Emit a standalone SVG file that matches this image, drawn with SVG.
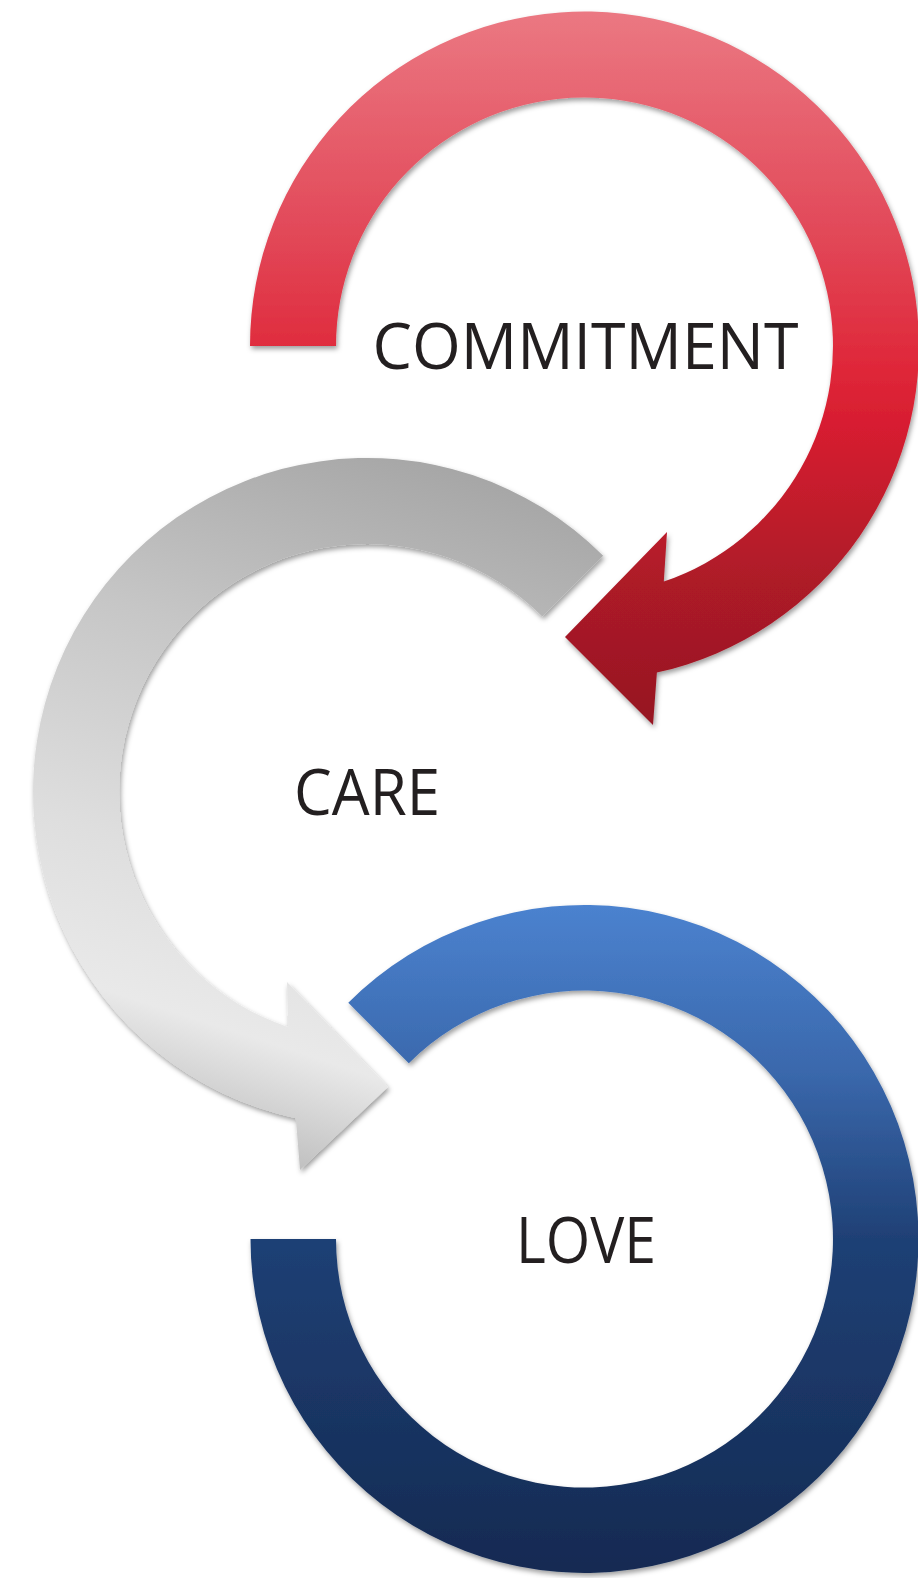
<svg xmlns="http://www.w3.org/2000/svg" width="918" height="1578" viewBox="0 0 918 1578">
  <style>
    .lbl { font-family: "Open Sans", "Noto Sans", "Liberation Sans", sans-serif; font-size: 64px; fill: #231f20; text-anchor: middle; }
    .shape { filter: url(#shadow); }
  </style>
  <defs>
    <filter id="shadow" x="-10%" y="-10%" width="120%" height="120%">
      <feDropShadow dx="1.5" dy="3" stdDeviation="2.5" flood-color="#000" flood-opacity="0.38"/>
    </filter>
    <linearGradient id="gRed" gradientUnits="userSpaceOnUse" x1="0" y1="12" x2="0" y2="725">
      <stop offset="0" stop-color="#eb7882"/>
      <stop offset="0.3" stop-color="#e24a5a"/>
      <stop offset="0.5" stop-color="#df2739"/>
      <stop offset="0.58" stop-color="#d71d30"/>
      <stop offset="0.8" stop-color="#ad1a28"/>
      <stop offset="1" stop-color="#961722"/>
    </linearGradient>
    <linearGradient id="gGray" gradientUnits="userSpaceOnUse" x1="560" y1="470" x2="330" y2="1180">
      <stop offset="0" stop-color="#a2a2a2"/>
      <stop offset="0.35" stop-color="#c6c6c6"/>
      <stop offset="0.65" stop-color="#dedede"/>
      <stop offset="0.85" stop-color="#e9e9e9"/>
      <stop offset="1" stop-color="#c0c0c0"/>
    </linearGradient>
    <linearGradient id="gBlue" gradientUnits="userSpaceOnUse" x1="0" y1="905" x2="0" y2="1573">
      <stop offset="0" stop-color="#4b82cf"/>
      <stop offset="0.25" stop-color="#3a68ac"/>
      <stop offset="0.5" stop-color="#1f4075"/>
      <stop offset="1" stop-color="#142a52"/>
    </linearGradient>
  </defs>

  <g id="connectors"></g>

  <g id="node-love">
    <path class="shape" fill="url(#gBlue)" d="M250.5,1239 A334,334 0 1 0 348.3,1002.8 L408.8,1063.3 A248.5,248.5 0 1 1 336,1239 Z"/>
    <text class="lbl" x="586" y="1263" textLength="140" lengthAdjust="spacingAndGlyphs">LOVE</text>
  </g>

  <g id="node-care">
    <path class="shape" fill="url(#gGray)" d="M603.2,555.8 A334,334 0 1 0 295.8,1118.3 L300,1170 L388,1087 L287,982 L288.3,1027.2 A248,248 0 1 1 542.4,616.6 Z"/>
    <text class="lbl" x="367" y="815" textLength="146" lengthAdjust="spacingAndGlyphs">CARE</text>
  </g>

  <g id="node-commitment">
    <path class="shape" fill="url(#gRed)" d="M250,346 A334.5,334.5 0 1 1 656.9,672.6 L653,725 L565,637 L667,532 L663.8,581.5 A248.5,248.5 0 1 0 336,346 Z"/>
    <text class="lbl" x="585.5" y="369" textLength="426" lengthAdjust="spacingAndGlyphs">COMMITMENT</text>
  </g>
</svg>
